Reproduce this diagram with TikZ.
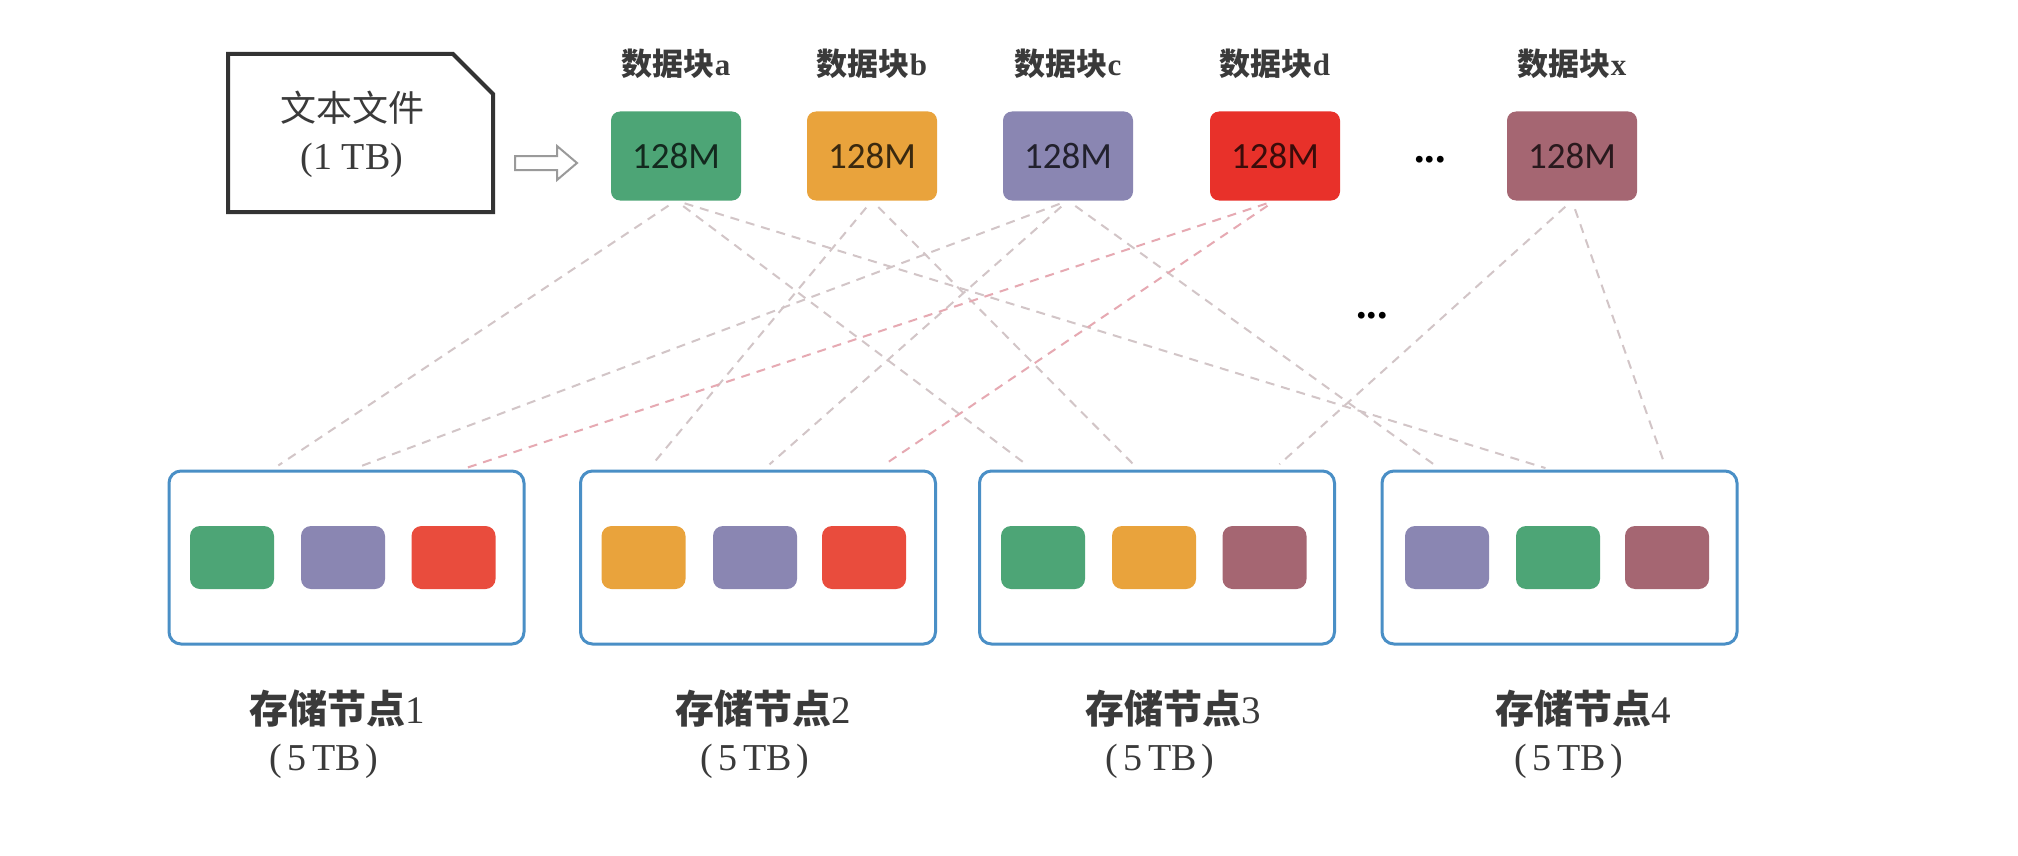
\documentclass[tikz,border=0pt]{standalone}
\usepackage{fontspec}
\setmainfont{Liberation Serif}
\newfontfamily\cjk{Noto Sans CJK SC}
\newfontfamily\blkfont{Carlito}
\usetikzlibrary{calc}
\definecolor{cgreen}{HTML}{4DA576}
\definecolor{corange}{HTML}{E9A33C}
\definecolor{cpurple}{HTML}{8A86B2}
\definecolor{cred}{HTML}{E8312A}
\definecolor{credb}{HTML}{E94C3D}
\definecolor{cmauve}{HTML}{A56672}
\definecolor{cblue}{HTML}{4A8FC6}
\definecolor{cline}{HTML}{D2C5C7}
\definecolor{clinered}{HTML}{E6A9B2}
\definecolor{cfile}{HTML}{333333}
\definecolor{carrow}{HTML}{9A9A9A}
\definecolor{ctext}{HTML}{3A3A3A}
\begin{document}
\begin{tikzpicture}[x=1pt,y=-1pt,
  topblk/.style={rounded corners=9pt, minimum width=130pt, minimum height=89pt, inner sep=0pt,
    font=\blkfont\fontsize{37}{40}\selectfont},
  blklabel/.style={font=\cjk\bfseries\fontsize{31}{34}\selectfont, text=ctext, inner sep=0pt},
  innerblk/.style={rounded corners=10pt, minimum width=84pt, minimum height=63pt, inner sep=0pt},
  storebox/.style={draw=cblue, line width=3pt, rounded corners=12pt, minimum width=355pt,
    minimum height=173pt, inner sep=0pt},
  storelabel/.style={font=\cjk\bfseries\fontsize{39}{42}\selectfont, text=ctext, inner sep=0pt},
  caplabel/.style={font=\fontsize{38}{42}\selectfont, text=ctext, inner sep=0pt},
  link/.style={draw=cline, line width=2pt, dash pattern=on 9pt off 7pt, shorten <=9pt, shorten >=10pt},
  linkred/.style={link, draw=clinered},
  dotsstyle/.style={font=\bfseries\fontsize{42}{44}\selectfont, inner sep=0pt, anchor=base}
]
\fill[white] (0,0) rectangle (2018,856);
\useasboundingbox (0,0) rectangle (2018,856);

% file
\draw[cfile, line width=4pt, line join=miter] (228,54) -- (453,54) -- (493,94) -- (493,212) -- (228,212) -- cycle;
\node[font=\cjk\fontsize{36}{40}\selectfont, text=ctext, inner sep=0pt] (filet) at (352,108) {文本文件};
\node[font=\fontsize{38}{42}\selectfont, text=ctext, inner sep=0pt] (files) at (352,160) {(1 TB)};

% hollow arrow
\draw[carrow, line width=2pt, line join=miter] (515,156) -- (557,156) -- (557,146) -- (577,163) -- (557,180) -- (557,170) -- (515,170) -- cycle;

% top blocks
\node[topblk, fill=cgreen, text=cgreen!25!black] (ta) at (676,156) {128M};
\node[topblk, fill=corange, text=corange!25!black] (tb) at (872,156) {128M};
\node[topblk, fill=cpurple, text=cpurple!25!black] (tc) at (1068,156) {128M};
\node[topblk, fill=cred, text=cred!25!black] (td) at (1275,156) {128M};
\node[topblk, fill=cmauve, text=cmauve!25!black] (tx) at (1572,156) {128M};

\node[blklabel] (la) at (676,64) {数据块{\rmfamily\bfseries a}};
\node[blklabel] (lb) at (872,64) {数据块{\rmfamily\bfseries b}};
\node[blklabel] (lc) at (1068,64) {数据块{\rmfamily\bfseries c}};
\node[blklabel] (ld) at (1275,64) {数据块{\rmfamily\bfseries d}};
\node[blklabel] (lx) at (1572,64) {数据块{\rmfamily\bfseries x}};

\node[dotsstyle] (dots1) at (1430,162) {...};
\node[dotsstyle] (dots2) at (1372,318) {...};

% storage boxes
\node[storebox] (s1) at (346.5,557.5) {};
\node[storebox] (s2) at (758,557.5) {};
\node[storebox] (s3) at (1157,557.5) {};
\node[storebox] (s4) at (1559.5,557.5) {};

\node[innerblk, fill=cgreen]  (s1a) at (232,557.5) {};
\node[innerblk, fill=cpurple] (s1b) at (343,557.5) {};
\node[innerblk, fill=credb]   (s1c) at (453.5,557.5) {};
\node[innerblk, fill=corange] (s2a) at (643.5,557.5) {};
\node[innerblk, fill=cpurple] (s2b) at (755,557.5) {};
\node[innerblk, fill=credb]   (s2c) at (864,557.5) {};
\node[innerblk, fill=cgreen]  (s3a) at (1043,557.5) {};
\node[innerblk, fill=corange] (s3b) at (1154,557.5) {};
\node[innerblk, fill=cmauve]  (s3c) at (1264.5,557.5) {};
\node[innerblk, fill=cpurple] (s4a) at (1447,557.5) {};
\node[innerblk, fill=cgreen]  (s4b) at (1558,557.5) {};
\node[innerblk, fill=cmauve]  (s4c) at (1667,557.5) {};

\node[storelabel] (n1) at (337,709) {存储节点{\rmfamily\mdseries 1}};
\node[caplabel] (c1) at (324,761) {(\hspace{5pt}5\,TB\hspace{5pt})};
\node[storelabel] (n2) at (763,709) {存储节点{\rmfamily\mdseries 2}};
\node[caplabel] (c2) at (755,761) {(\hspace{5pt}5\,TB\hspace{5pt})};
\node[storelabel] (n3) at (1173,709) {存储节点{\rmfamily\mdseries 3}};
\node[caplabel] (c3) at (1160,761) {(\hspace{5pt}5\,TB\hspace{5pt})};
\node[storelabel] (n4) at (1583,709) {存储节点{\rmfamily\mdseries 4}};
\node[caplabel] (c4) at (1569,761) {(\hspace{5pt}5\,TB\hspace{5pt})};

% connection points on the box tops
\coordinate (p11) at (270,471);
\coordinate (p12) at (348,471);
\coordinate (p13) at (457,471);
\coordinate (p21) at (647,471);
\coordinate (p22) at (762,471);
\coordinate (p23) at (875,471);
\coordinate (p31) at (1035,471);
\coordinate (p32) at (1140,471);
\coordinate (p33) at (1272,471);
\coordinate (p41) at (1443,471);
\coordinate (p42) at (1555,471);
\coordinate (p43) at (1667,471);

% links
\draw[link] (ta.south) -- (p11);
\draw[link] (ta.south) -- (p31);
\draw[link] (ta.south) -- (p42);
\draw[link] (tb.south) -- (p21);
\draw[link] (tb.south) -- (p32);
\draw[link] (tc.south) -- (p12);
\draw[link] (tc.south) -- (p22);
\draw[link] (tc.south) -- (p41);
\draw[linkred] (td.south) -- (p13);
\draw[linkred] (td.south) -- (p23);
\draw[link] (tx.south) -- (p33);
\draw[link] (tx.south) -- (p43);
\end{tikzpicture}
\end{document}
